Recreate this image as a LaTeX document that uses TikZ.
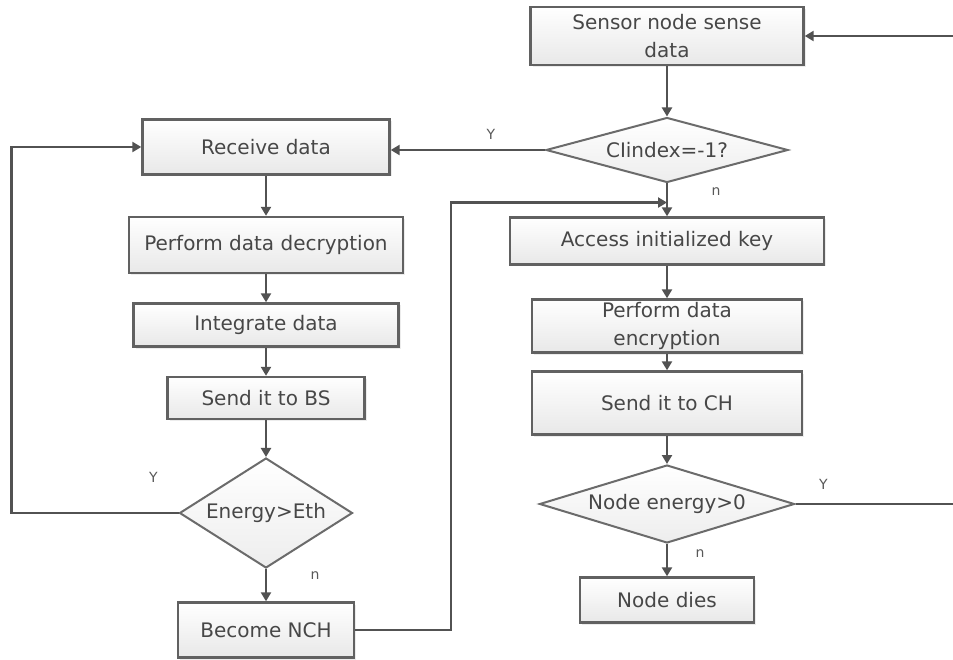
\documentclass[tikz,border=0pt]{standalone}
\usepackage{fontspec}
\setmainfont{DejaVu Sans}
\usetikzlibrary{positioning, shapes.geometric, arrows.meta, shadows, calc}

\tikzset{
  stepbox/.style={rectangle, draw=black!62, line width=2.4pt, top color=white, bottom color=black!9,
    drop shadow={opacity=0.15, shadow xshift=2pt, shadow yshift=-2pt},
    text=black!72, font=\fontsize{20}{28}\selectfont, align=center, inner sep=0pt},
  decision/.style={diamond, draw=black!58, line width=2pt, top color=white, bottom color=black!7,
    text=black!72, font=\fontsize{20}{28}\selectfont, inner sep=0pt},
  conn/.style={draw=black!68, line width=2.4pt, -{Triangle[length=9pt,width=10pt]}},
  lbl/.style={text=black!65, font=\fontsize{14}{14}\selectfont}
}

\begin{document}
\begin{tikzpicture}[x=1pt, y=-1pt]
\useasboundingbox (0,0) rectangle (953,660);
\clip (0,0) rectangle (953,660);

% right column
\node[stepbox, minimum width=273pt, minimum height=58pt] (sense) at (667,36) {Sensor node sense\\data};
\node[decision, aspect=3.7, minimum width=242pt, minimum height=65pt] (cidx) at (667,150) {CIindex=-1?};
\node[stepbox, minimum width=314pt, minimum height=47pt] (key) at (667,241) {Access initialized key};
\node[stepbox, minimum width=270pt, minimum height=53pt] (encr) at (667,326) {Perform data\\encryption};
\node[stepbox, minimum width=270pt, minimum height=63pt] (sendch) at (667,403) {Send it to CH};
\node[decision, aspect=3.27, minimum width=255pt, minimum height=78pt] (nen) at (667,504) {Node energy>0};
\node[stepbox, minimum width=174pt, minimum height=45pt] (dies) at (667,600) {Node dies};

% left column
\node[stepbox, minimum width=247pt, minimum height=55pt] (recv) at (266,147) {Receive data};
\node[stepbox, minimum width=274pt, minimum height=56pt] (decr) at (266,245) {Perform data decryption};
\node[stepbox, minimum width=265pt, minimum height=43pt] (integ) at (266,325) {Integrate data};
\node[stepbox, minimum width=197pt, minimum height=42pt] (sendbs) at (266,398) {Send it to BS};
\node[decision, aspect=1.57, minimum width=173pt, minimum height=110pt] (eth) at (266,513) {Energy>Eth};
\node[stepbox, minimum width=176pt, minimum height=55pt] (nch) at (266,630) {Become NCH};

\coordinate (join) at ($(cidx.south)!0.58!(key.north)$);

\draw[conn] (sense) -- (cidx);
\draw[conn] (cidx.west) -- (cidx.west -| recv.east) node[lbl, pos=0.35, above=6pt] {Y};
\draw[conn] (cidx) -- (key) node[lbl, pos=0.25, right=40pt] {n};
\draw[conn] (key) -- (encr);
\draw[conn] (encr) -- (sendch);
\draw[conn] (sendch) -- (nen);
\draw[conn] (nen) -- (dies) node[lbl, pos=0.3, right=24pt] {n};
\draw[conn] (nen.east) -- ++(200,0) node[lbl, pos=0.14, above=10pt] {Y} |- (sense.east);

\draw[conn] (recv) -- (decr);
\draw[conn] (decr) -- (integ);
\draw[conn] (integ) -- (sendbs);
\draw[conn] (sendbs) -- (eth);
\draw[conn] (eth) -- (nch) node[lbl, pos=0.2, right=40pt] {n};
\draw[conn] (eth.west) -- ++(-167,0) node[lbl, pos=0.15, above=26pt] {Y} |- (recv.west);
\draw[conn] (nch.east) -- ++(96,0) |- (join);
\end{tikzpicture}
\end{document}
